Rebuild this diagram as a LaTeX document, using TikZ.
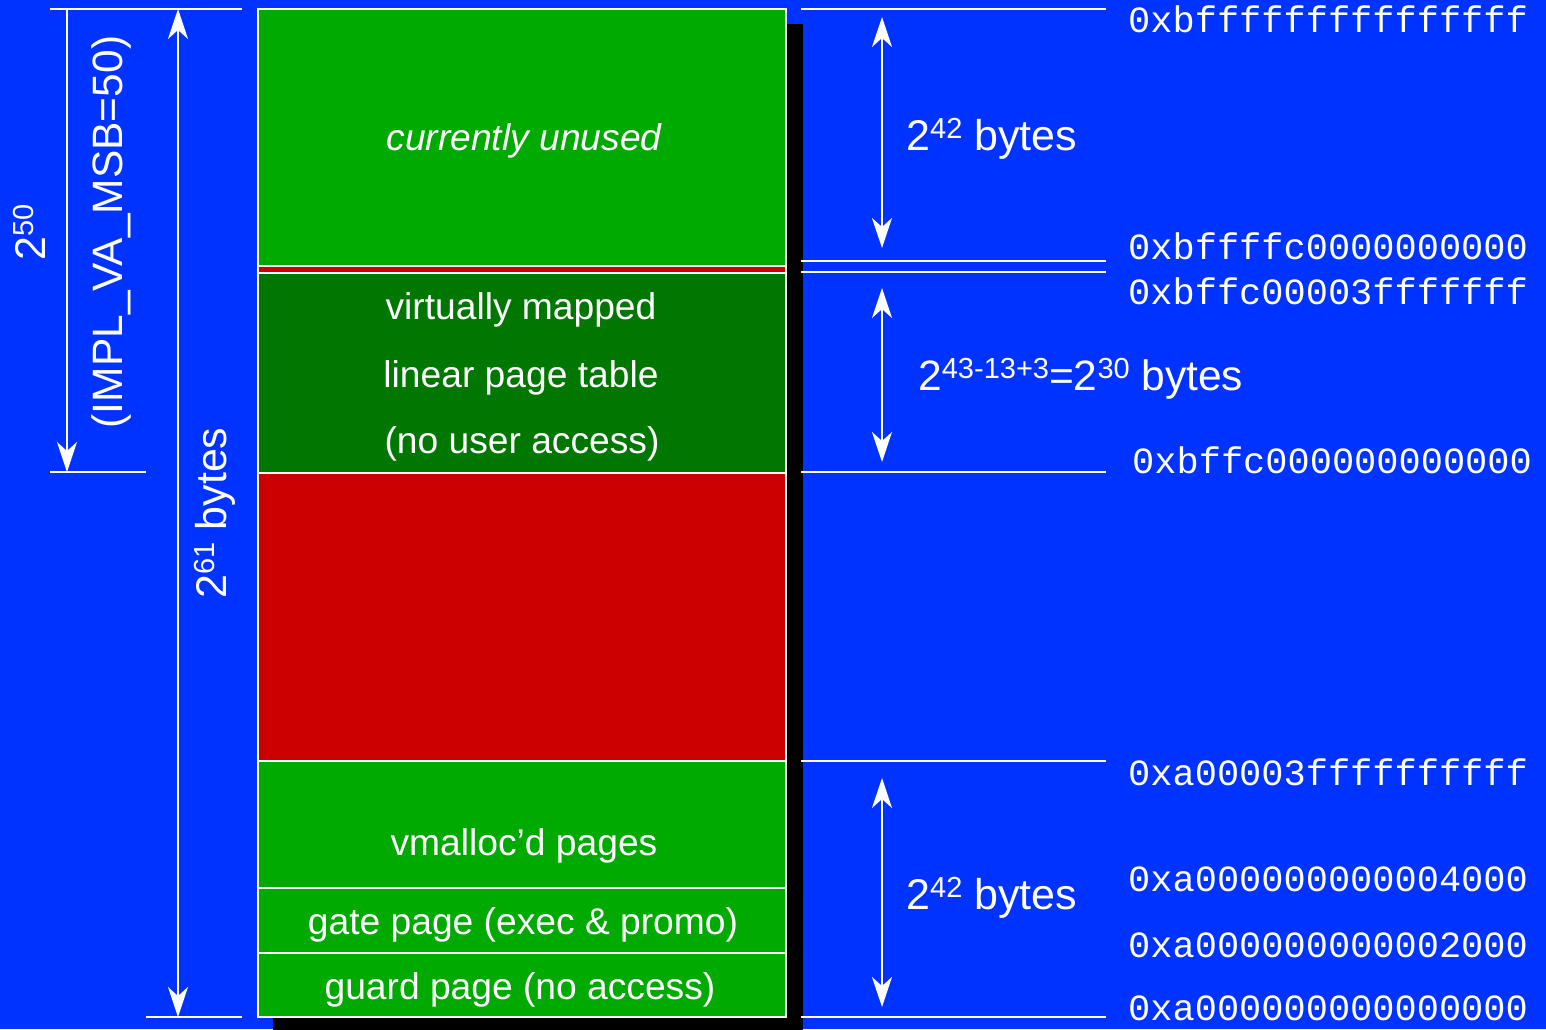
\documentclass[tikz,border=0pt]{standalone}
\usepackage{fontspec}
\setmainfont{Liberation Sans}
\newfontfamily\monofam{Liberation Mono}
\usetikzlibrary{arrows.meta}
\definecolor{bgblue}{RGB}{0,51,255}
\definecolor{lgreen}{RGB}{0,170,0}
\definecolor{dgreen}{RGB}{0,119,0}
\definecolor{bred}{RGB}{204,0,0}
\newcommand\sps[1]{\raisebox{0.26em}{\fontsize{29}{29}\selectfont #1}}
\begin{document}
\begin{tikzpicture}[x=1pt,y=-1pt,
  membox/.style={draw=white, line width=2pt, minimum width=528pt, inner sep=0pt, outer sep=0pt},
  boxtext/.style={text=white, font=\fontsize{37.2}{40}\selectfont, text height=27pt, text depth=8pt, inner sep=0pt},
  addr/.style={text=white, font=\monofam\fontsize{37}{40}\selectfont, anchor=base west, inner sep=0pt},
  biglabel/.style={text=white, font=\fontsize{43}{46}\selectfont, inner sep=0pt},
  ruleline/.style={draw=white, line width=1.8pt},
  dimboth/.style={draw=white, line width=1.8pt, {Stealth[length=30pt,width=20pt,inset=9pt]}-{Stealth[length=30pt,width=20pt,inset=9pt]}},
  dimend/.style={draw=white, line width=1.8pt, -{Stealth[length=30pt,width=20pt,inset=9pt]}}
]
\useasboundingbox (0,0) rectangle (1546,1029);
\fill[bgblue] (0,0) rectangle (1546,1029);
% shadow
\fill[black] (273,24) rectangle (803,1040);
% memory boxes
\node[membox, fill=lgreen, minimum height=257pt] (unused) at (522,137.5) {};
\node[membox, fill=bred, minimum height=7pt] (strip) at (522,269.5) {};
\node[membox, fill=dgreen, minimum height=200pt] (vpt) at (522,373) {};
\node[membox, fill=bred, minimum height=288pt] (hole) at (522,617) {};
\node[membox, fill=lgreen, minimum height=127pt] (vmal) at (522,824.5) {};
\node[membox, fill=lgreen, minimum height=65pt] (gate) at (522,920.5) {};
\node[membox, fill=lgreen, minimum height=64pt] (guard) at (522,985) {};
% box texts
\node[boxtext, font=\fontsize{37.2}{40}\selectfont\itshape] (tunused) at (524,141) {currently unused};
\node[boxtext] (tv1) at (521,310) {virtually mapped};
\node[boxtext] (tv2) at (521,378) {linear page table};
\node[boxtext] (tv3) at (522,444) {(no user access)};
\node[boxtext] (tvmal) at (524,846) {vmalloc’d pages};
\node[boxtext] (tgate) at (523,925) {gate page (exec \& promo)};
\node[boxtext] (tguard) at (520,990) {guard page (no access)};
% left rules
\coordinate (l1a) at (50,9);   \coordinate (l1b) at (242,9);
\coordinate (l2a) at (50,472); \coordinate (l2b) at (146,472);
\coordinate (l3a) at (146,1017); \coordinate (l3b) at (242,1017);
\draw[ruleline] (l1a) -- (l1b);
\draw[ruleline] (l2a) -- (l2b);
\draw[ruleline] (l3a) -- (l3b);
% left arrows
\coordinate (a1t) at (67,9); \coordinate (a1b) at (67,472);
\coordinate (a2t) at (178,9); \coordinate (a2b) at (178,1017);
\draw[dimend] (a1t) -- (a1b);
\draw[dimboth] (a2t) -- (a2b);
% left labels
\node[biglabel, rotate=90, anchor=base] (l250) at (45,232) {2\sps{50}};
\node[biglabel, font=\fontsize{42.5}{46}\selectfont, rotate=90, anchor=base] (limpl) at (122,232) {(IMPL\_VA\_MSB=50)};
\node[biglabel, rotate=90, anchor=base] (l261) at (226,513) {2\sps{61} bytes};
% right rules
\foreach \yy/\nm in {9/r1,261/r2,272/r3,472/r4,761/r5,1017/r6}{
  \coordinate (\nm a) at (801,\yy); \coordinate (\nm b) at (1106,\yy);
  \draw[ruleline] (\nm a) -- (\nm b);
}
% right arrows
\coordinate (b1t) at (882,17);  \coordinate (b1b) at (882,248);
\coordinate (b2t) at (882,288); \coordinate (b2b) at (882,462);
\coordinate (b3t) at (882,778); \coordinate (b3b) at (882,1007);
\draw[dimboth] (b1t) -- (b1b);
\draw[dimboth] (b2t) -- (b2b);
\draw[dimboth] (b3t) -- (b3b);
% byte labels
\node[biglabel, anchor=base west] (s1) at (906,150) {2\sps{42} bytes};
\node[biglabel, font=\fontsize{42.5}{46}\selectfont, anchor=base west] (s2) at (918,390) {2\sps{43-13+3}=2\sps{30} bytes};
\node[biglabel, anchor=base west] (s3) at (906,909) {2\sps{42} bytes};
% addresses
\node[addr] (ad1) at (1128,32) {0xbfffffffffffffff};
\node[addr] (ad2) at (1128,259) {0xbffffc0000000000};
\node[addr] (ad3) at (1128,304) {0xbffc00003fffffff};
\node[addr] (ad4) at (1132,473) {0xbffc000000000000};
\node[addr] (ad5) at (1128,785) {0xa00003ffffffffff};
\node[addr] (ad6) at (1128,891) {0xa000000000004000};
\node[addr] (ad7) at (1128,957) {0xa000000000002000};
\node[addr] (ad8) at (1128,1020) {0xa000000000000000};
\end{tikzpicture}
\end{document}
